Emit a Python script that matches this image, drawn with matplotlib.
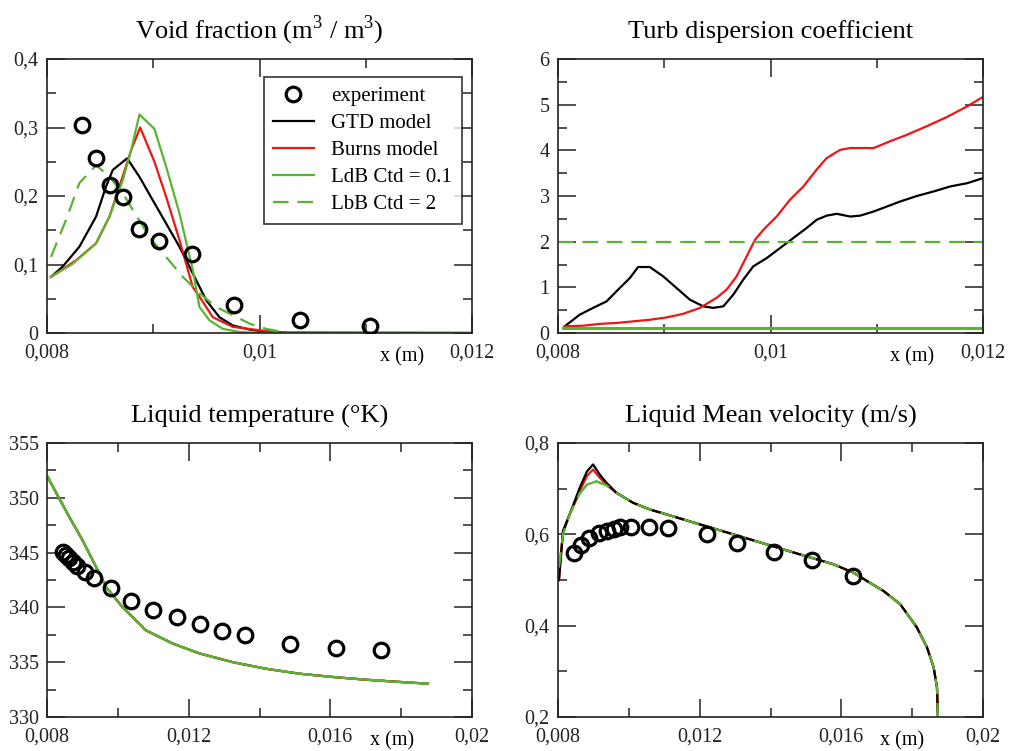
import numpy as np
import matplotlib
matplotlib.use("Agg")
import matplotlib.pyplot as plt
from matplotlib.ticker import MultipleLocator, FuncFormatter

plt.rcParams['font.family'] = ['Liberation Serif', 'DejaVu Serif']
plt.rcParams['mathtext.fontset'] = 'custom'
plt.rcParams['mathtext.rm'] = 'Liberation Serif'

BLACK = "black"
RED = "#f01414"
GREEN = "#5ab432"
DASH = (0, (7, 4))

# ---- Void fraction ----
vf_exp_x = [0.008327, 0.00846, 0.008597, 0.008713, 0.008863, 0.009052,
            0.009366, 0.009758, 0.010377, 0.011036]
vf_exp_y = [0.304, 0.255, 0.216, 0.199, 0.152, 0.134, 0.116, 0.041, 0.0195, 0.010]

vf_gtd_x = [0.008038, 0.008148, 0.008305, 0.008462, 0.008556, 0.008619, 0.008754,
            0.00887, 0.008995, 0.009121, 0.009246, 0.009372, 0.009498, 0.009623,
            0.009749, 0.009906, 0.010063, 0.010377, 0.012]
vf_gtd_y = [0.082, 0.097, 0.126, 0.170, 0.214, 0.238, 0.255, 0.228, 0.194, 0.160,
            0.126, 0.087, 0.048, 0.023, 0.011, 0.005, 0.0015, 0.0, 0.0]

vf_burns_x = [0.008038, 0.008273, 0.008462, 0.008588, 0.008682, 0.008792, 0.008877,
              0.009011, 0.009121, 0.009246, 0.009372, 0.009435, 0.009561, 0.009749,
              0.01, 0.01022, 0.012]
vf_burns_y = [0.082, 0.106, 0.131, 0.170, 0.214, 0.267, 0.300, 0.250, 0.199, 0.136,
              0.067, 0.053, 0.023, 0.009, 0.004, 0.001, 0.0]

vf_ldb_x = [0.008038, 0.008242, 0.008462, 0.008588, 0.008713, 0.008792, 0.00887,
            0.009011, 0.009121, 0.009246, 0.009372, 0.009435, 0.009529, 0.009655,
            0.009812, 0.01, 0.012]
vf_ldb_y = [0.082, 0.101, 0.131, 0.170, 0.223, 0.267, 0.319, 0.298, 0.243, 0.175,
            0.092, 0.038, 0.0185, 0.006, 0.0015, 0.0, 0.0]

vf_lbb_x = [0.008038, 0.008179, 0.008305, 0.008462, 0.008588, 0.008713, 0.008807,
            0.008964, 0.009121, 0.009278, 0.009435, 0.009592, 0.009749, 0.009906,
            0.010063, 0.01022, 0.0104, 0.012]
vf_lbb_y = [0.111, 0.165, 0.219, 0.245, 0.228, 0.204, 0.180, 0.140, 0.111, 0.082,
            0.058, 0.038, 0.026, 0.0137, 0.006, 0.0015, 0.0, 0.0]

# ---- Turb dispersion coefficient ----
td_gtd_x = [0.008063, 0.008204, 0.00833, 0.008456, 0.008581, 0.008675, 0.008754,
            0.008864, 0.008990, 0.009116, 0.009241, 0.009367, 0.009461, 0.009556,
            0.009650, 0.009744, 0.009838, 0.009964, 0.01009, 0.010215, 0.010341,
            0.010435, 0.010529, 0.010624, 0.01075, 0.010844, 0.010970, 0.011096,
            0.011221, 0.011378, 0.011536, 0.011693, 0.011850, 0.012]
td_gtd_y = [0.146, 0.40, 0.55, 0.69, 0.985, 1.2, 1.445, 1.445, 1.24, 0.985, 0.73,
            0.584, 0.55, 0.584, 0.84, 1.17, 1.46, 1.64, 1.86, 2.08, 2.3, 2.48,
            2.57, 2.61, 2.55, 2.57, 2.66, 2.77, 2.88, 3.0, 3.10, 3.21, 3.28, 3.39]

td_burns_x = [0.008063, 0.008236, 0.008393, 0.00855, 0.008707, 0.008864, 0.009021,
              0.009178, 0.009336, 0.009493, 0.009587, 0.009681, 0.009776, 0.009854,
              0.009933, 0.010058, 0.010184, 0.01031, 0.010435, 0.010529, 0.010655,
              0.010750, 0.010844, 0.010970, 0.011127, 0.011284, 0.011473, 0.011661,
              0.011850, 0.012]
td_burns_y = [0.146, 0.16, 0.2, 0.22, 0.255, 0.29, 0.34, 0.42, 0.55, 0.77, 0.95,
              1.24, 1.68, 2.04, 2.26, 2.55, 2.92, 3.21, 3.58, 3.83, 4.01, 4.05,
              4.05, 4.05, 4.20, 4.34, 4.53, 4.73, 4.96, 5.17]

td_ldb_x = [0.00805, 0.012]
td_ldb_y = [0.1, 0.1]
td_lbb_x = [0.008, 0.012]
td_lbb_y = [2.0, 2.0]

# ---- Liquid temperature ----
lt_exp_x = [0.008443, 0.008537, 0.00863, 0.008744, 0.008848, 0.009083, 0.009337,
            0.009808, 0.010374, 0.011005, 0.011664, 0.012323, 0.012945, 0.013595,
            0.014848, 0.016147, 0.017419]
lt_exp_y = [345.05, 344.8, 344.5, 344.1, 343.8, 343.2, 342.7, 341.8, 340.55, 339.8,
            339.1, 338.5, 337.85, 337.45, 336.7, 336.3, 336.08]

lt_model_x = [0.008019, 0.008301, 0.008631, 0.009008, 0.009337, 0.009667, 0.010138,
              0.010797, 0.011551, 0.012304, 0.013246, 0.014188, 0.01513, 0.016072,
              0.017014, 0.017956, 0.018756]
lt_model_y = [351.9, 350.2, 348.25, 346.1, 344.0, 341.86, 340.0, 337.9, 336.7, 335.8,
              335.0, 334.4, 333.95, 333.65, 333.4, 333.2, 333.04]

# ---- Liquid mean velocity ----
lv_exp_x = [0.008443, 0.008641, 0.008877, 0.00915, 0.009386, 0.009584, 0.009763,
            0.010055, 0.010564, 0.011111, 0.012214, 0.013062, 0.014099, 0.015183,
            0.016343]
lv_exp_y = [0.56, 0.5767, 0.5927, 0.602, 0.607, 0.612, 0.616, 0.616, 0.616, 0.6145,
            0.6, 0.5818, 0.5615, 0.5433, 0.509]

lv_tail_x = [0.00965, 0.010121, 0.010592, 0.011064, 0.011535, 0.012006, 0.012949,
             0.013892, 0.014834, 0.015777, 0.016343, 0.01672, 0.017191, 0.017662,
             0.018134, 0.018417, 0.018605, 0.0187, 0.018728]
lv_tail_y = [0.691, 0.669, 0.6545, 0.6436, 0.6327, 0.6218, 0.6, 0.578, 0.556, 0.5345,
             0.516, 0.498, 0.476, 0.447, 0.396, 0.3527, 0.309, 0.2655, 0.2]

lv_gtd_head_x = [0.008028, 0.008141, 0.00833, 0.008613, 0.00882, 0.00899, 0.009178, 0.009367]
lv_gtd_head_y = [0.50, 0.607, 0.644, 0.702, 0.738, 0.753, 0.731, 0.713]
lv_burns_head_x = [0.008028, 0.008141, 0.00833, 0.008613, 0.00882, 0.00899, 0.009178, 0.009367]
lv_burns_head_y = [0.50, 0.607, 0.644, 0.695, 0.728, 0.742, 0.724, 0.709]
lv_ldb_head_x = [0.008028, 0.008141, 0.00833, 0.008613, 0.00882, 0.009085, 0.009367]
lv_ldb_head_y = [0.527, 0.6, 0.644, 0.69, 0.709, 0.716, 0.7076]

labels = ["experiment", "GTD model", "Burns model", "LdB Ctd = 0.1", "LbB Ctd = 2"]


def comma_fmt(v, pos):
    s = "%g" % round(v, 6)
    return s.replace(".", ",")


def style_axes(ax, xlim, ylim, xmaj, xmin, ymaj, ymin, xlab_pos):
    ax.set_xlim(*xlim)
    ax.set_ylim(*ylim)
    ax.xaxis.set_major_locator(MultipleLocator(xmaj))
    ax.xaxis.set_minor_locator(MultipleLocator(xmin))
    ax.yaxis.set_major_locator(MultipleLocator(ymaj))
    ax.yaxis.set_minor_locator(MultipleLocator(ymin))
    ax.xaxis.set_major_formatter(FuncFormatter(comma_fmt))
    ax.yaxis.set_major_formatter(FuncFormatter(comma_fmt))
    ax.tick_params(which="both", direction="in", top=True, right=True, width=1.1,
                   labelsize=14.5, pad=6, colors="#222222")
    ax.tick_params(axis="x", pad=7.5)
    ax.tick_params(which="major", length=13)
    ax.tick_params(which="minor", length=6.5)
    for sp in ax.spines.values():
        sp.set_linewidth(1.2)
        sp.set_color("#222222")
    ax.annotate("x (m)", xy=(xlab_pos, 0), xycoords="axes fraction",
                xytext=(0, -17.5), textcoords="offset points",
                ha="left", va="center", fontsize=14.5)


fig = plt.figure(figsize=(10.11, 7.51), dpi=100)
W, H = 1011, 751


def px_axes(left, top, right, bottom):
    return fig.add_axes([left / W, 1 - bottom / H, (right - left) / W, (bottom - top) / H])


ax1 = px_axes(47, 59, 472, 333)
ax2 = px_axes(558, 59, 983, 333)
ax3 = px_axes(47, 443, 472, 717)
ax4 = px_axes(558, 443, 983, 717)

mk = dict(ls="none", marker="o", ms=10.5, mfc="none", mec="black", mew=2.3)
lw = 1.6
TITLE = dict(fontsize=19, pad=15)

# Void fraction
ax1.plot(vf_exp_x, vf_exp_y, label=labels[0], zorder=5, **mk)
ax1.plot(vf_gtd_x, vf_gtd_y, color=BLACK, lw=lw, label=labels[1])
ax1.plot(vf_burns_x, vf_burns_y, color=RED, lw=lw, label=labels[2])
ax1.plot(vf_ldb_x, vf_ldb_y, color=GREEN, lw=lw, label=labels[3])
ax1.plot(vf_lbb_x, vf_lbb_y, color=GREEN, lw=lw, ls=DASH, label=labels[4])
style_axes(ax1, (0.008, 0.012), (0, 0.4), 0.002, 0.001, 0.1, 0.05, 0.784)
ax1.set_title(r"Void fraction (m$^{\rm 3}$ / m$^{\rm 3}$)", **TITLE)
leg = ax1.legend(loc="upper left", bbox_to_anchor=(0.51, 0.934), fontsize=15,
                 frameon=True, fancybox=False, handlelength=1.95, handletextpad=0.85,
                 labelspacing=0.36, borderpad=0.45, borderaxespad=0)
leg.get_frame().set_edgecolor("black")
leg.get_frame().set_linewidth(1.2)

# Turb dispersion coefficient
ax2.plot(td_gtd_x, td_gtd_y, color=BLACK, lw=lw)
ax2.plot(td_burns_x, td_burns_y, color=RED, lw=lw)
ax2.plot(td_ldb_x, td_ldb_y, color=GREEN, lw=2.2)
ax2.plot(td_lbb_x, td_lbb_y, color=GREEN, lw=lw, ls=DASH)
style_axes(ax2, (0.008, 0.012), (0, 6), 0.002, 0.001, 1, 0.5, 0.781)
ax2.set_title("Turb dispersion coefficient", **TITLE)

# Liquid temperature
ax3.plot(lt_exp_x, lt_exp_y, zorder=5, **mk)
ax3.plot(lt_model_x, lt_model_y, color=BLACK, lw=lw)
ax3.plot(lt_model_x, lt_model_y, color=RED, lw=lw)
ax3.plot(lt_model_x, lt_model_y, color=GREEN, lw=lw, ls=DASH)
ax3.plot(lt_model_x, lt_model_y, color=GREEN, lw=lw)
style_axes(ax3, (0.008, 0.02), (330, 355), 0.004, 0.002, 5, 2.5, 0.76)
ax3.set_title("Liquid temperature (°K)", **TITLE)

# Liquid mean velocity
ax4.plot(lv_exp_x, lv_exp_y, zorder=5, **mk)
ax4.plot(lv_ldb_head_x + lv_tail_x, lv_ldb_head_y + lv_tail_y, color=GREEN, lw=lw)
ax4.plot(lv_burns_head_x + lv_tail_x, lv_burns_head_y + lv_tail_y, color=RED, lw=lw)
ax4.plot(lv_gtd_head_x + lv_tail_x, lv_gtd_head_y + lv_tail_y, color=BLACK, lw=lw)
ax4.plot(lv_ldb_head_x + lv_tail_x, lv_ldb_head_y + lv_tail_y, color=GREEN, lw=lw, ls=DASH)
style_axes(ax4, (0.008, 0.02), (0.2, 0.8), 0.004, 0.002, 0.2, 0.1, 0.758)
ax4.set_title("Liquid Mean velocity (m/s)", **TITLE)

fig.savefig("out.png", dpi=100)
